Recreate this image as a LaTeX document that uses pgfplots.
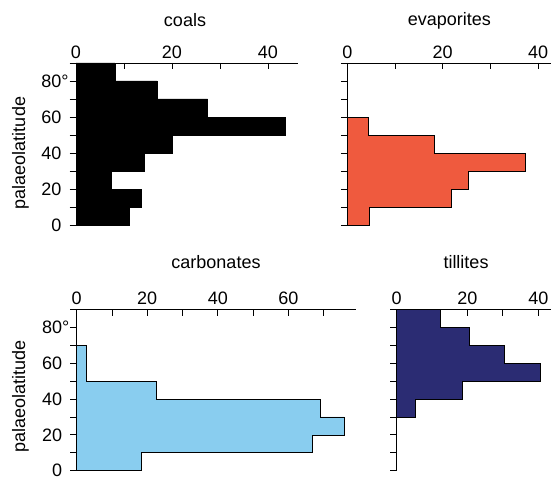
\documentclass[border=0pt]{standalone}
\usepackage{pgfplots}
\pgfplotsset{compat=1.18}
\usepackage{fontspec}
\setmainfont{Liberation Sans}
\definecolor{evap}{HTML}{EF5A3E}
\definecolor{carb}{HTML}{89CDEF}
\definecolor{till}{HTML}{2B2C73}
\pgfplotsset{
 hist/.style={
  scale only axis, ymin=0, ymax=90, xmin=0,
  axis x line=top, axis y line=left,
  axis line style={-, line width=0.8pt},
  tick align=inside,
  major tick length=6.5pt, minor tick length=6.5pt,
  ytick style={xshift=-6.5pt},
  ytick={0,20,40,60,80}, minor ytick={10,30,50,70,90},
  tick style={line width=0.8pt, black},
  font=\fontsize{18}{21}\selectfont,
  /pgf/number format/assume math mode=true,
  yticklabel style={xshift=-11pt},
  xticklabel style={yshift=1pt},
  clip=false,
 }
}
\begin{document}
\begin{tikzpicture}[x=1pt,y=1pt]
\begin{axis}[hist, at={(76pt,253.7pt)}, anchor=south west, width=222pt, height=162.4pt,
  xmax=46.25, xtick={0,20,40}, minor xtick={10,30},
  yticklabels={0,20,40,60,80\rlap{°}}]
\addplot[fill=black, draw=black, line width=0.6pt] coordinates {(0,0) (11,0) (11,10) (13.5,10) (13.5,20) (7.3,20) (7.3,30) (14.2,30) (14.2,40) (20.1,40) (20.1,50) (43.7,50) (43.7,60) (27.4,60) (27.4,70) (16.9,70) (16.9,80) (8.1,80) (8.1,90) (0,90)} -- cycle;
\end{axis}
\begin{axis}[hist, at={(347.3pt,253.7pt)}, anchor=south west, width=203.7pt, height=162.4pt,
  xmax=42.7, xtick={0,20,40}, minor xtick={10,30},
  yticklabels={}]
\addplot[fill=evap, draw=black, line width=0.6pt] coordinates {(0,0) (4.6,0) (4.6,10) (21.7,10) (21.7,20) (25.4,20) (25.4,30) (37.4,30) (37.4,40) (18.2,40) (18.2,50) (4.4,50) (4.4,60) (0,60)} -- cycle;
\end{axis}
\begin{axis}[hist, at={(76.7pt,8.3pt)}, anchor=south west, width=279.3pt, height=161.3pt,
  xmax=79.2, xtick={0,20,40,60}, minor xtick={10,30,50,70},
  yticklabels={0,20,40,60,80\rlap{°}}]
\addplot[fill=carb, draw=black, line width=0.6pt] coordinates {(0,0) (18.4,0) (18.4,10) (66.8,10) (66.8,20) (75.8,20) (75.8,30) (69,30) (69,40) (22.7,40) (22.7,50) (2.6,50) (2.6,70) (0,70)} -- cycle;
\end{axis}
\begin{axis}[hist, at={(396.7pt,8.3pt)}, anchor=south west, width=154.3pt, height=161.3pt,
  xmax=43.6, xtick={0,20,40}, minor xtick={10,30},
  yticklabels={}]
\addplot[fill=till, draw=black, line width=0.6pt] coordinates {(0,30) (5.2,30) (5.2,40) (18.6,40) (18.6,50) (40.7,50) (40.7,60) (30.4,60) (30.4,70) (20.5,70) (20.5,80) (12.3,80) (12.3,90) (0,90)} -- cycle;
\end{axis}
\begin{scope}[font=\fontsize{18}{21}\selectfont]
\node[anchor=base] at (185pt,452.3pt) {coals};
\node[anchor=base] at (449.3pt,453pt) {evaporites};
\node[anchor=base] at (216pt,210.7pt) {carbonates};
\node[anchor=base] at (466pt,210.7pt) {tillites};
\node[rotate=90] at (20.5pt,326pt) {palaeolatitude};
\node[rotate=90] at (20.5pt,82.3pt) {palaeolatitude};
\end{scope}
\pgfresetboundingbox
\path[use as bounding box] (0,0) rectangle (551pt,479pt);
\end{tikzpicture}
\end{document}
